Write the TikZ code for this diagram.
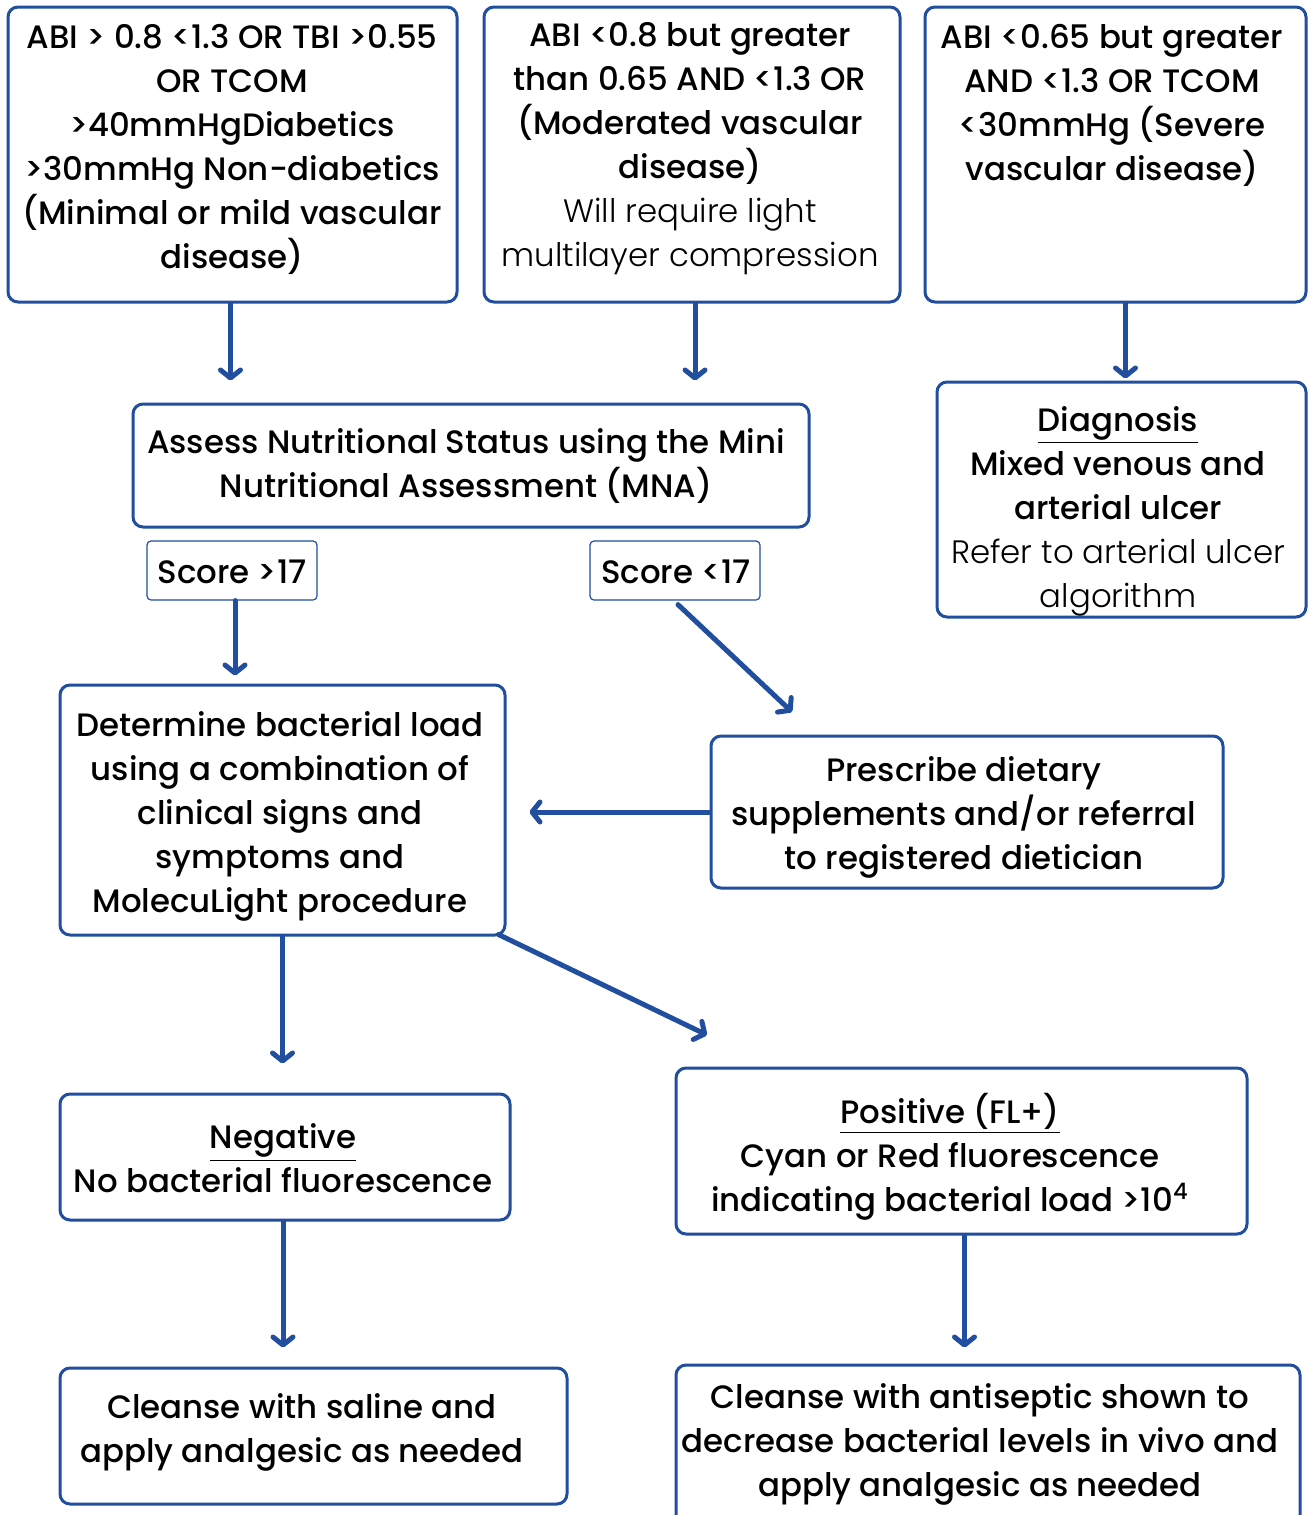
\documentclass[tikz,border=0pt]{standalone}
\usepackage{fontspec}
\setmainfont{Poppins}[UprightFont=* Medium, BoldFont=* SemiBold]
\newfontfamily\lightf{Poppins}[UprightFont=* Light]
\usetikzlibrary{arrows.meta,fit}
\definecolor{bblue}{RGB}{33,78,158}
\tikzset{
  box/.style={draw=bblue, line width=1.5pt, rounded corners=5pt, inner sep=0pt, fill=white},
  scorebox/.style={draw=bblue, line width=0.6pt, rounded corners=2pt, inner sep=0pt},
  txt/.style={align=center, inner sep=0pt, yshift=-1.5pt, font=\fontsize{16.2}{22}\selectfont},
  arr/.style={draw=bblue, line width=2.5pt, line cap=round,
    -{Straight Barb[length=4pt,width=10pt,line join=round,line cap=round]}},
}
\begin{document}
\begin{tikzpicture}[x=0.5pt,y=-0.5pt]
\useasboundingbox[fill=white] (0,0) rectangle (1312,1515);
% top boxes
\node[box, fit={(8,7) (457,302)}] (A) {};
\node[txt] (tA) at (232,146) {ABI {>} 0.8 <1.3 OR TBI >0.55\\OR TCOM\\>40mmHgDiabetics\\>30mmHg Non-diabetics\\(Minimal or mild vascular\\disease)};
\node[box, fit={(484,7) (900,302)}] (B) {};
\node[txt] (tB) at (690,146) {ABI <0.8 but greater\\than 0.65 AND <1.3 OR\\(Moderated vascular\\disease)\\{\lightf Will require light}\\{\lightf multilayer compression}};
\node[box, fit={(925,7) (1306,302)}] (C) {};
\node[txt] (tC) at (1112,102) {ABI <0.65 but greater\\AND <1.3 OR TCOM\\<30mmHg (Severe\\vascular disease)};
% MNA
\node[box, fit={(133,404) (809,527)}] (M) {};
\node[txt] (tM) at (466,463) {Assess Nutritional Status using the Mini\\Nutritional Assessment (MNA)};
\node[scorebox, fit={(147,541) (317,600)}] (S1) {};
\node[txt] (tS1) at (232,569) {Score >17};
\node[scorebox, fit={(590,541) (760,600)}] (S2) {};
\node[txt] (tS2) at (676,569) {Score <17};
% Diagnosis
\node[box, fit={(937,382) (1306,617)}] (D) {};
\node[txt] (tD) at (1118,508) {\underline{Diagnosis}\\Mixed venous and\\arterial ulcer\\{\lightf Refer to arterial ulcer}\\{\lightf algorithm}};
% Determine
\node[box, fit={(60,685) (505,935)}] (L) {};
\node[txt] (tL) at (280,813) {Determine bacterial load\\using a combination of\\clinical signs and\\symptoms and\\MolecuLight procedure};
% Prescribe
\node[box, fit={(711,736) (1223,888)}] (P) {};
\node[txt] (tP) at (964,814) {Prescribe dietary\\supplements and/or referral\\to registered dietician};
% Negative / Positive
\node[box, fit={(60,1094) (510,1220)}] (N) {};
\node[txt] (tN) at (283,1155) {\underline{Negative}\\No bacterial fluorescence};
\node[box, fit={(676,1068) (1247,1234)}] (Q) {};
\node[txt] (tQ) at (950,1154) {\underline{Positive (FL+)}\\Cyan or Red fluorescence\\indicating bacterial load >10\textsuperscript{4}};
% Cleanse
\node[box, fit={(60,1368) (567,1504)}] (K1) {};
\node[txt] (tK1) at (302,1429) {Cleanse with saline and\\apply analgesic as needed};
\node[box, fit={(676,1365) (1300,1530)}] (K2) {};
\node[txt] (tK2) at (980,1441) {Cleanse with antiseptic shown to\\decrease bacterial levels in vivo and\\apply analgesic as needed};
% free ends
\coordinate (e1) at (792,712);
\coordinate (e2) at (707,1035);
% arrows
\draw[arr, shorten >=11pt] ([xshift=-1pt]A.south) -- ([xshift=-1pt]A.south |- M.north);
\draw[arr, shorten >=11pt] ([xshift=1.5pt]B.south) -- ([xshift=1.5pt]B.south |- M.north);
\draw[arr, shorten >=1pt] ([xshift=5pt]C.south) -- ([xshift=5pt]C.south |- D.north);
\draw[arr, shorten >=4pt] ([xshift=1.5pt]S1.south) -- ([xshift=1.5pt]S1.south |- L.north);
\draw[arr] ([xshift=1.5pt,yshift=-2pt]S2.south) -- (e1);
\draw[arr, shorten >=11.5pt] (P.west) -- (P.west -| L.east);
\draw[arr, shorten >=14.5pt] (L.south) -- (L.south |- N.north);
\draw[arr] ([xshift=-4pt,yshift=1pt]L.south east) -- (e2);
\draw[arr, shorten >=9.5pt] ([xshift=-1pt]N.south) -- ([xshift=-1pt]N.south |- K1.north);
\draw[arr, shorten >=8pt] ([xshift=1.5pt]Q.south) -- ([xshift=1.5pt]Q.south |- K2.north);
\end{tikzpicture}
\end{document}
